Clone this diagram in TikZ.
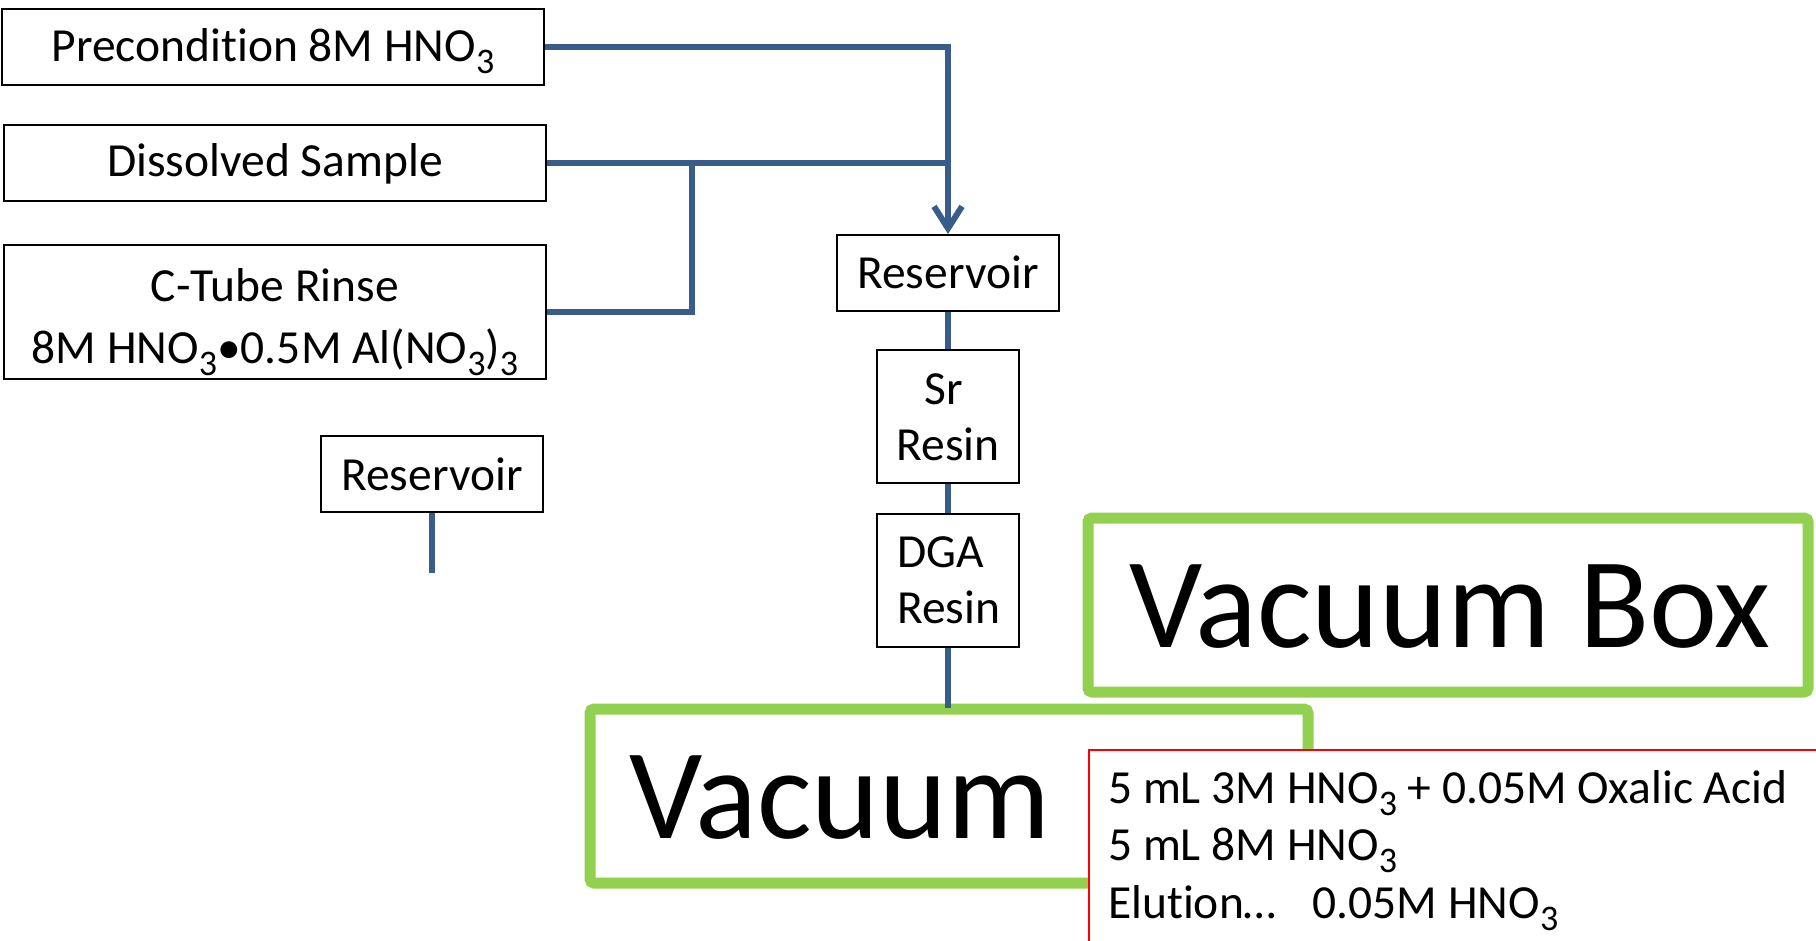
\documentclass[tikz,border=0pt]{standalone}
\usepackage{fontspec}
\setmainfont{Carlito}[Ligatures=NoCommon]
\usetikzlibrary{arrows.meta}
\definecolor{flowblue}{RGB}{56,93,138}
\definecolor{vacgreen}{RGB}{146,208,80}
\newcommand\sbs[1]{\raisebox{-12pt}{\fontsize{36}{36}\selectfont #1}}
\begin{document}
\begin{tikzpicture}[x=1pt,y=-1pt,
  box/.style={draw=black, line width=2pt, fill=white, inner sep=0pt},
  txt/.style={inner sep=0pt, font=\fontsize{47.5}{57}\selectfont},
  big/.style={inner sep=0pt, font=\fontsize{129}{150}\selectfont},
  flow/.style={draw=flowblue, line width=6pt},
  gbox/.style={draw=vacgreen, line width=11pt, fill=white, rounded corners=4pt, inner sep=0pt},
  note/.style={draw=red, line width=2pt, fill=white, inner sep=0pt}]
\useasboundingbox (0,0) rectangle (1816,941);
\fill[white] (0,0) rectangle (1816,941);

% boxes
\node[box, minimum width=542pt, minimum height=76pt] (pre) at (273,47) {};
\node[box, minimum width=542pt, minimum height=76pt] (dis) at (275,163) {};
\node[box, minimum width=542pt, minimum height=134pt] (ct) at (275,312) {};
\node[box, minimum width=222pt, minimum height=76pt] (res) at (948,273) {};
\node[box, minimum width=142pt, minimum height=133pt] (sr) at (948,416.5) {};
\node[box, minimum width=142pt, minimum height=133pt] (dga) at (948,580.5) {};
\node[box, minimum width=222pt, minimum height=76pt] (res2) at (432,474) {};

% green boxes
\node[gbox, minimum width=720pt, minimum height=174pt] (vbox) at (1448,605) {};
\node[gbox, minimum width=718pt, minimum height=174pt] (vac) at (949,796) {};
\node[note, anchor=north west, minimum width=800pt, minimum height=260pt] (rbox) at (1088,749) {};

% connectors
\coordinate (jn) at (692,163);
\coordinate (end2) at (432,573);
\draw[flow, -{Straight Barb[length=22pt, width=28pt]}] (pre.east) -| (res.north);
\draw[flow] (dis.east) -- (dis.east -| res.north);
\draw[flow] (ct.east) -| (jn);
\draw[flow] (res.south) -- (sr.north);
\draw[flow] (sr.south) -- (dga.south |- dga.north);
\draw[flow] (dga.south) -- ([yshift=-4.5pt]dga.south |- vac.north);
\draw[flow] (res2.south) -- (end2);

% texts
\node[txt, anchor=base] (pre-t) at (273,62) {Precondition 8M HNO\sbs{3}};
\node[txt, anchor=base] (dis-t) at (275,177) {Dissolved Sample};
\node[txt, anchor=base] (ct-t1) at (275,302) {C-Tube Rinse};
\node[txt, anchor=base] (ct-t2) at (275,363) {8M HNO\sbs{3}•0.5M Al(NO\sbs{3})\sbs{3}};
\node[txt, anchor=base] (res-t) at (948,289) {Reservoir};
\node[txt, anchor=base] (res2-t) at (432,490) {Reservoir};
\node[txt, anchor=base] (sr-t1) at (944,404) {Sr};
\node[txt, anchor=base] (sr-t2) at (948,460) {Resin};
\node[txt, anchor=base west] (dga-t1) at (897,567) {DGA};
\node[txt, anchor=base west] (dga-t2) at (897,623) {Resin};
\node[big, anchor=base west] (vac-t) at (629,838) {Vacuum};
\node[big, anchor=base west] (vbox-t) at (1129,647) {Vacuum Box};
\node[txt, anchor=base west] (r-t1) at (1108,803) {5 mL 3M HNO\sbs{3} + 0.05M Oxalic Acid};
\node[txt, anchor=base west] (r-t2) at (1108,860) {5 mL 8M HNO\sbs{3}};
\node[txt, anchor=base west] (r-t3) at (1108,918) {Elution…\hspace{36pt}0.05M HNO\sbs{3}};
\end{tikzpicture}
\end{document}
